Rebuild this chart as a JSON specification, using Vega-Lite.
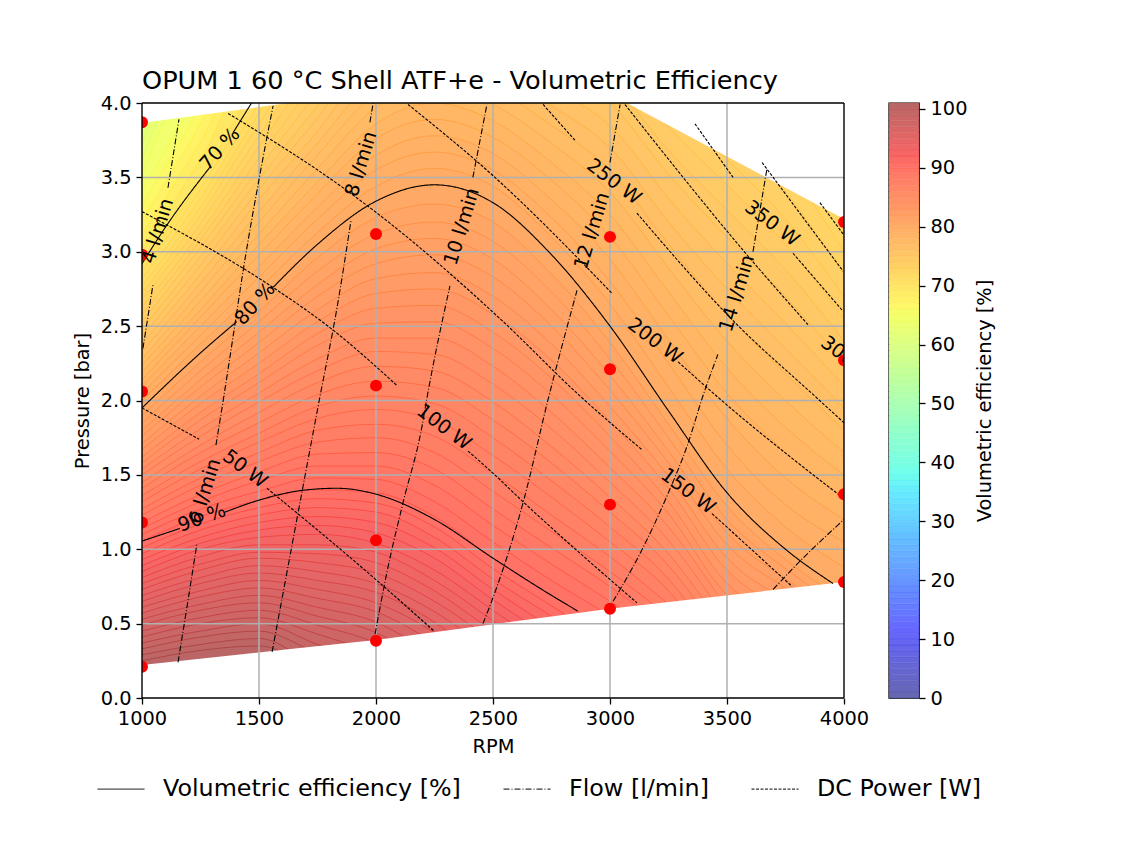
{
"$schema":"https://vega.github.io/schema/vega-lite/v6.json",
"background":"white",
"padding":{"left":72,"top":69,"right":20,"bottom":10},
"bounds":"flush",
"spacing":45,
"config":{"font":"DejaVu Sans","view":{"stroke":null},
"axis":{"grid":false,"domain":false,"labelFontSize":19.4,"titleFontSize":19.4,"titleFontWeight":"normal","labelColor":"black","titleColor":"black","tickColor":"black","tickSize":6,"tickWidth":1.3,"labelOverlap":false,"labelFlush":false}},
"datasets":{
"levels":[
{"x":1000,"y":3.92,"l":60},{"x":1250,"y":4.7,"l":60},{"x":4000,"y":4.8,"l":60},
{"x":1000,"y":3.82,"l":61},{"x":1250,"y":4.58,"l":61},{"x":4000,"y":4.8,"l":61},
{"x":1000,"y":3.72,"l":62},{"x":1250,"y":4.46,"l":62},{"x":4000,"y":4.8,"l":62},
{"x":1000,"y":3.62,"l":63},{"x":1250,"y":4.34,"l":63},{"x":4000,"y":4.8,"l":63},
{"x":1000,"y":3.52,"l":64},{"x":1250,"y":4.22,"l":64},{"x":4000,"y":4.8,"l":64},
{"x":1000,"y":3.42,"l":65},{"x":1250,"y":4.1,"l":65},{"x":1500,"y":4.9,"l":65},{"x":4000,"y":4.9,"l":65},
{"x":1000,"y":3.32,"l":66},{"x":1250,"y":3.98,"l":66},{"x":1500,"y":4.75,"l":66},{"x":4000,"y":4.9,"l":66},
{"x":1000,"y":3.22,"l":67},{"x":1250,"y":3.86,"l":67},{"x":1500,"y":4.6,"l":67},{"x":4000,"y":4.9,"l":67},
{"x":1000,"y":3.12,"l":68},{"x":1250,"y":3.74,"l":68},{"x":1500,"y":4.45,"l":68},{"x":4000,"y":4.9,"l":68},
{"x":1000,"y":3.02,"l":69},{"x":1250,"y":3.62,"l":69},{"x":1500,"y":4.3,"l":69},{"x":4000,"y":4.9,"l":69},
{"x":1000,"y":2.92,"l":70},{"x":1250,"y":3.48,"l":70},{"x":1500,"y":4.15,"l":70},{"x":1750,"y":4.6,"l":70},{"x":4000,"y":4.8,"l":70},
{"x":1000,"y":2.87,"l":70.5},{"x":1250,"y":3.42,"l":70.5},{"x":1500,"y":4.08,"l":70.5},{"x":1750,"y":4.6,"l":70.5},{"x":4000,"y":4.7,"l":70.5},
{"x":1000,"y":2.82,"l":71},{"x":1250,"y":3.36,"l":71},{"x":1500,"y":4,"l":71},{"x":1750,"y":4.6,"l":71},{"x":4000,"y":4.6,"l":71},
{"x":1000,"y":2.77,"l":71.5},{"x":1250,"y":3.3,"l":71.5},{"x":1500,"y":3.93,"l":71.5},{"x":1750,"y":4.5,"l":71.5},{"x":4000,"y":4.5,"l":71.5},
{"x":1000,"y":2.72,"l":72},{"x":1250,"y":3.25,"l":72},{"x":1500,"y":3.86,"l":72},{"x":1750,"y":4.41,"l":72},{"x":3500,"y":4.15,"l":72},{"x":3750,"y":3.75,"l":72},{"x":4000,"y":3.15,"l":72},
{"x":1000,"y":2.68,"l":72.5},{"x":1250,"y":3.19,"l":72.5},{"x":1500,"y":3.78,"l":72.5},{"x":1750,"y":4.32,"l":72.5},{"x":2000,"y":4.5,"l":72.5},{"x":3250,"y":4.4,"l":72.5},{"x":3500,"y":3.98,"l":72.5},{"x":3750,"y":3.58,"l":72.5},{"x":4000,"y":3,"l":72.5},
{"x":1000,"y":2.63,"l":73},{"x":1250,"y":3.13,"l":73},{"x":1500,"y":3.71,"l":73},{"x":1750,"y":4.24,"l":73},{"x":2000,"y":4.5,"l":73},{"x":3250,"y":4.16,"l":73},{"x":3500,"y":3.8,"l":73},{"x":3750,"y":3.4,"l":73},{"x":4000,"y":2.85,"l":73},
{"x":1000,"y":2.58,"l":73.5},{"x":1250,"y":3.08,"l":73.5},{"x":1500,"y":3.63,"l":73.5},{"x":1750,"y":4.15,"l":73.5},{"x":2000,"y":4.5,"l":73.5},{"x":3000,"y":4.5,"l":73.5},{"x":3250,"y":4,"l":73.5},{"x":3500,"y":3.62,"l":73.5},{"x":3750,"y":3.22,"l":73.5},{"x":4000,"y":2.7,"l":73.5},
{"x":1000,"y":2.53,"l":74},{"x":1250,"y":3.03,"l":74},{"x":1500,"y":3.56,"l":74},{"x":1750,"y":4.07,"l":74},{"x":2000,"y":4.5,"l":74},{"x":3000,"y":4.3,"l":74},{"x":3250,"y":3.84,"l":74},{"x":3500,"y":3.45,"l":74},{"x":3750,"y":3.05,"l":74},{"x":4000,"y":2.55,"l":74},
{"x":1000,"y":2.48,"l":74.5},{"x":1250,"y":2.97,"l":74.5},{"x":1500,"y":3.49,"l":74.5},{"x":1750,"y":3.98,"l":74.5},{"x":2000,"y":4.45,"l":74.5},{"x":2750,"y":4.4,"l":74.5},{"x":3000,"y":4.15,"l":74.5},{"x":3250,"y":3.68,"l":74.5},{"x":3500,"y":3.28,"l":74.5},{"x":3750,"y":2.88,"l":74.5},{"x":4000,"y":2.4,"l":74.5},
{"x":1000,"y":2.43,"l":75},{"x":1250,"y":2.91,"l":75},{"x":1500,"y":3.42,"l":75},{"x":1750,"y":3.9,"l":75},{"x":2000,"y":4.4,"l":75},{"x":2250,"y":4.5,"l":75},{"x":2750,"y":4.23,"l":75},{"x":3000,"y":4,"l":75},{"x":3250,"y":3.52,"l":75},{"x":3500,"y":3.1,"l":75},{"x":3750,"y":2.7,"l":75},{"x":4000,"y":2.25,"l":75},
{"x":1000,"y":2.38,"l":75.5},{"x":1250,"y":2.85,"l":75.5},{"x":1500,"y":3.35,"l":75.5},{"x":1750,"y":3.81,"l":75.5},{"x":2000,"y":4.29,"l":75.5},{"x":2250,"y":4.42,"l":75.5},{"x":2500,"y":4.35,"l":75.5},{"x":2750,"y":4.1,"l":75.5},{"x":3000,"y":3.85,"l":75.5},{"x":3250,"y":3.36,"l":75.5},{"x":3500,"y":2.92,"l":75.5},{"x":3750,"y":2.52,"l":75.5},{"x":4000,"y":2.1,"l":75.5},
{"x":1000,"y":2.33,"l":76},{"x":1250,"y":2.79,"l":76},{"x":1500,"y":3.27,"l":76},{"x":1750,"y":3.73,"l":76},{"x":2000,"y":4.18,"l":76},{"x":2250,"y":4.35,"l":76},{"x":2500,"y":4.2,"l":76},{"x":2750,"y":3.98,"l":76},{"x":3000,"y":3.7,"l":76},{"x":3250,"y":3.2,"l":76},{"x":3500,"y":2.75,"l":76},{"x":3750,"y":2.35,"l":76},{"x":4000,"y":1.95,"l":76},
{"x":1000,"y":2.28,"l":76.5},{"x":1250,"y":2.73,"l":76.5},{"x":1500,"y":3.2,"l":76.5},{"x":1750,"y":3.65,"l":76.5},{"x":2000,"y":4.07,"l":76.5},{"x":2250,"y":4.23,"l":76.5},{"x":2500,"y":4.1,"l":76.5},{"x":2750,"y":3.85,"l":76.5},{"x":3000,"y":3.55,"l":76.5},{"x":3250,"y":3.05,"l":76.5},{"x":3500,"y":2.58,"l":76.5},{"x":3750,"y":2.18,"l":76.5},{"x":4000,"y":1.8,"l":76.5},
{"x":1000,"y":2.24,"l":77},{"x":1250,"y":2.67,"l":77},{"x":1500,"y":3.12,"l":77},{"x":1750,"y":3.56,"l":77},{"x":2000,"y":3.97,"l":77},{"x":2250,"y":4.11,"l":77},{"x":2500,"y":3.99,"l":77},{"x":2750,"y":3.73,"l":77},{"x":3000,"y":3.4,"l":77},{"x":3250,"y":2.89,"l":77},{"x":3500,"y":2.4,"l":77},{"x":3750,"y":2,"l":77},{"x":4000,"y":1.65,"l":77},
{"x":1000,"y":2.19,"l":77.5},{"x":1250,"y":2.61,"l":77.5},{"x":1500,"y":3.05,"l":77.5},{"x":1750,"y":3.47,"l":77.5},{"x":2000,"y":3.86,"l":77.5},{"x":2250,"y":4,"l":77.5},{"x":2500,"y":3.88,"l":77.5},{"x":2750,"y":3.6,"l":77.5},{"x":3000,"y":3.25,"l":77.5},{"x":3250,"y":2.73,"l":77.5},{"x":3500,"y":2.22,"l":77.5},{"x":3750,"y":1.82,"l":77.5},{"x":4000,"y":1.5,"l":77.5},
{"x":1000,"y":2.14,"l":78},{"x":1250,"y":2.56,"l":78},{"x":1500,"y":2.98,"l":78},{"x":1750,"y":3.39,"l":78},{"x":2000,"y":3.76,"l":78},{"x":2250,"y":3.89,"l":78},{"x":2500,"y":3.77,"l":78},{"x":2750,"y":3.48,"l":78},{"x":3000,"y":3.1,"l":78},{"x":3250,"y":2.57,"l":78},{"x":3500,"y":2.05,"l":78},{"x":3750,"y":1.65,"l":78},{"x":4000,"y":1.35,"l":78},
{"x":1000,"y":2.1,"l":78.5},{"x":1250,"y":2.5,"l":78.5},{"x":1500,"y":2.9,"l":78.5},{"x":1750,"y":3.3,"l":78.5},{"x":2000,"y":3.65,"l":78.5},{"x":2250,"y":3.78,"l":78.5},{"x":2500,"y":3.66,"l":78.5},{"x":2750,"y":3.35,"l":78.5},{"x":3000,"y":2.95,"l":78.5},{"x":3250,"y":2.41,"l":78.5},{"x":3500,"y":1.88,"l":78.5},{"x":3750,"y":1.48,"l":78.5},{"x":4000,"y":1.2,"l":78.5},
{"x":1000,"y":2.05,"l":79},{"x":1250,"y":2.44,"l":79},{"x":1500,"y":2.83,"l":79},{"x":1750,"y":3.22,"l":79},{"x":2000,"y":3.55,"l":79},{"x":2250,"y":3.67,"l":79},{"x":2500,"y":3.55,"l":79},{"x":2750,"y":3.23,"l":79},{"x":3000,"y":2.8,"l":79},{"x":3250,"y":2.25,"l":79},{"x":3500,"y":1.7,"l":79},{"x":3750,"y":1.3,"l":79},{"x":4000,"y":1.05,"l":79},
{"x":1000,"y":2,"l":79.5},{"x":1250,"y":2.38,"l":79.5},{"x":1500,"y":2.75,"l":79.5},{"x":1750,"y":3.13,"l":79.5},{"x":2000,"y":3.44,"l":79.5},{"x":2250,"y":3.56,"l":79.5},{"x":2500,"y":3.44,"l":79.5},{"x":2750,"y":3.1,"l":79.5},{"x":3000,"y":2.65,"l":79.5},{"x":3250,"y":2.09,"l":79.5},{"x":3500,"y":1.54,"l":79.5},{"x":3750,"y":1.15,"l":79.5},{"x":4000,"y":0.88,"l":79.5},
{"x":1000,"y":1.95,"l":80},{"x":1250,"y":2.32,"l":80},{"x":1500,"y":2.68,"l":80},{"x":1750,"y":3.05,"l":80},{"x":2000,"y":3.34,"l":80},{"x":2250,"y":3.45,"l":80},{"x":2500,"y":3.33,"l":80},{"x":2750,"y":2.98,"l":80},{"x":3000,"y":2.5,"l":80},{"x":3250,"y":1.93,"l":80},{"x":3500,"y":1.38,"l":80},{"x":3750,"y":1,"l":80},{"x":4000,"y":0.72,"l":80},
{"x":1000,"y":1.9,"l":80.5},{"x":1250,"y":2.26,"l":80.5},{"x":1500,"y":2.6,"l":80.5},{"x":1750,"y":2.96,"l":80.5},{"x":2000,"y":3.23,"l":80.5},{"x":2250,"y":3.32,"l":80.5},{"x":2500,"y":3.2,"l":80.5},{"x":2750,"y":2.85,"l":80.5},{"x":3000,"y":2.39,"l":80.5},{"x":3250,"y":1.84,"l":80.5},{"x":3500,"y":1.29,"l":80.5},{"x":3750,"y":0.93,"l":80.5},{"x":4000,"y":0.66,"l":80.5},
{"x":1000,"y":1.85,"l":81},{"x":1250,"y":2.2,"l":81},{"x":1500,"y":2.53,"l":81},{"x":1750,"y":2.87,"l":81},{"x":2000,"y":3.12,"l":81},{"x":2250,"y":3.2,"l":81},{"x":2500,"y":3.07,"l":81},{"x":2750,"y":2.73,"l":81},{"x":3000,"y":2.28,"l":81},{"x":3250,"y":1.75,"l":81},{"x":3500,"y":1.2,"l":81},{"x":3750,"y":0.87,"l":81},{"x":4000,"y":0.6,"l":81},
{"x":1000,"y":1.8,"l":81.5},{"x":1250,"y":2.14,"l":81.5},{"x":1500,"y":2.46,"l":81.5},{"x":1750,"y":2.78,"l":81.5},{"x":2000,"y":3.02,"l":81.5},{"x":2250,"y":3.09,"l":81.5},{"x":2500,"y":2.95,"l":81.5},{"x":2750,"y":2.61,"l":81.5},{"x":3000,"y":2.17,"l":81.5},{"x":3250,"y":1.66,"l":81.5},{"x":3500,"y":1.11,"l":81.5},{"x":3750,"y":0.8,"l":81.5},{"x":4000,"y":0.55,"l":81.5},
{"x":1000,"y":1.76,"l":82},{"x":1250,"y":2.09,"l":82},{"x":1500,"y":2.39,"l":82},{"x":1750,"y":2.7,"l":82},{"x":2000,"y":2.92,"l":82},{"x":2250,"y":2.98,"l":82},{"x":2500,"y":2.83,"l":82},{"x":2750,"y":2.5,"l":82},{"x":3000,"y":2.07,"l":82},{"x":3250,"y":1.58,"l":82},{"x":3500,"y":1.03,"l":82},{"x":3750,"y":0.74,"l":82},{"x":4000,"y":0.5,"l":82},
{"x":1000,"y":1.71,"l":82.5},{"x":1250,"y":2.03,"l":82.5},{"x":1500,"y":2.32,"l":82.5},{"x":1750,"y":2.61,"l":82.5},{"x":2000,"y":2.82,"l":82.5},{"x":2250,"y":2.86,"l":82.5},{"x":2500,"y":2.7,"l":82.5},{"x":2750,"y":2.38,"l":82.5},{"x":3000,"y":1.96,"l":82.5},{"x":3250,"y":1.49,"l":82.5},{"x":3500,"y":0.94,"l":82.5},{"x":3750,"y":0.67,"l":82.5},
{"x":1000,"y":1.67,"l":83},{"x":1250,"y":1.98,"l":83},{"x":1500,"y":2.25,"l":83},{"x":1750,"y":2.53,"l":83},{"x":2000,"y":2.72,"l":83},{"x":2250,"y":2.75,"l":83},{"x":2500,"y":2.58,"l":83},{"x":2750,"y":2.27,"l":83},{"x":3000,"y":1.86,"l":83},{"x":3250,"y":1.41,"l":83},{"x":3500,"y":0.86,"l":83},{"x":3750,"y":0.6,"l":83},
{"x":1000,"y":1.62,"l":83.5},{"x":1250,"y":1.92,"l":83.5},{"x":1500,"y":2.18,"l":83.5},{"x":1750,"y":2.45,"l":83.5},{"x":2000,"y":2.62,"l":83.5},{"x":2250,"y":2.64,"l":83.5},{"x":2500,"y":2.46,"l":83.5},{"x":2750,"y":2.15,"l":83.5},{"x":3000,"y":1.76,"l":83.5},{"x":3250,"y":1.32,"l":83.5},{"x":3500,"y":0.77,"l":83.5},{"x":3750,"y":0.52,"l":83.5},
{"x":1000,"y":1.58,"l":84},{"x":1250,"y":1.87,"l":84},{"x":1500,"y":2.12,"l":84},{"x":1750,"y":2.37,"l":84},{"x":2000,"y":2.52,"l":84},{"x":2250,"y":2.53,"l":84},{"x":2500,"y":2.35,"l":84},{"x":2750,"y":2.04,"l":84},{"x":3000,"y":1.66,"l":84},{"x":3250,"y":1.24,"l":84},{"x":3500,"y":0.69,"l":84},{"x":3750,"y":0.45,"l":84},
{"x":1000,"y":1.54,"l":84.5},{"x":1250,"y":1.81,"l":84.5},{"x":1500,"y":2.05,"l":84.5},{"x":1750,"y":2.28,"l":84.5},{"x":2000,"y":2.42,"l":84.5},{"x":2250,"y":2.42,"l":84.5},{"x":2500,"y":2.23,"l":84.5},{"x":2750,"y":1.92,"l":84.5},{"x":3000,"y":1.55,"l":84.5},{"x":3250,"y":1.15,"l":84.5},{"x":3500,"y":0.6,"l":84.5},
{"x":1000,"y":1.5,"l":85},{"x":1250,"y":1.76,"l":85},{"x":1500,"y":1.99,"l":85},{"x":1750,"y":2.2,"l":85},{"x":2000,"y":2.33,"l":85},{"x":2250,"y":2.31,"l":85},{"x":2500,"y":2.11,"l":85},{"x":2750,"y":1.81,"l":85},{"x":3000,"y":1.45,"l":85},{"x":3250,"y":1.06,"l":85},{"x":3500,"y":0.52,"l":85},
{"x":1000,"y":1.45,"l":85.5},{"x":1250,"y":1.7,"l":85.5},{"x":1500,"y":1.92,"l":85.5},{"x":1750,"y":2.12,"l":85.5},{"x":2000,"y":2.23,"l":85.5},{"x":2250,"y":2.2,"l":85.5},{"x":2500,"y":1.99,"l":85.5},{"x":2750,"y":1.69,"l":85.5},{"x":3000,"y":1.35,"l":85.5},{"x":3250,"y":0.97,"l":85.5},{"x":3500,"y":0.43,"l":85.5},
{"x":1000,"y":1.41,"l":86},{"x":1250,"y":1.65,"l":86},{"x":1500,"y":1.85,"l":86},{"x":1750,"y":2.04,"l":86},{"x":2000,"y":2.13,"l":86},{"x":2250,"y":2.09,"l":86},{"x":2500,"y":1.87,"l":86},{"x":2750,"y":1.58,"l":86},{"x":3000,"y":1.25,"l":86},{"x":3250,"y":0.89,"l":86},{"x":3500,"y":0.35,"l":86},
{"x":1000,"y":1.36,"l":86.5},{"x":1250,"y":1.59,"l":86.5},{"x":1500,"y":1.78,"l":86.5},{"x":1750,"y":1.96,"l":86.5},{"x":2000,"y":2.03,"l":86.5},{"x":2250,"y":1.98,"l":86.5},{"x":2500,"y":1.75,"l":86.5},{"x":2750,"y":1.46,"l":86.5},{"x":3000,"y":1.15,"l":86.5},{"x":3250,"y":0.8,"l":86.5},{"x":3500,"y":0.26,"l":86.5},
{"x":1000,"y":1.32,"l":87},{"x":1250,"y":1.54,"l":87},{"x":1500,"y":1.72,"l":87},{"x":1750,"y":1.88,"l":87},{"x":2000,"y":1.94,"l":87},{"x":2250,"y":1.87,"l":87},{"x":2500,"y":1.63,"l":87},{"x":2750,"y":1.35,"l":87},{"x":3000,"y":1.05,"l":87},{"x":3250,"y":0.72,"l":87},{"x":3500,"y":0.18,"l":87},
{"x":1000,"y":1.27,"l":87.5},{"x":1250,"y":1.48,"l":87.5},{"x":1500,"y":1.65,"l":87.5},{"x":1750,"y":1.8,"l":87.5},{"x":2000,"y":1.84,"l":87.5},{"x":2250,"y":1.76,"l":87.5},{"x":2500,"y":1.51,"l":87.5},{"x":2750,"y":1.23,"l":87.5},{"x":3000,"y":0.95,"l":87.5},{"x":3250,"y":0.63,"l":87.5},
{"x":1000,"y":1.23,"l":88},{"x":1250,"y":1.43,"l":88},{"x":1500,"y":1.59,"l":88},{"x":1750,"y":1.72,"l":88},{"x":2000,"y":1.75,"l":88},{"x":2250,"y":1.65,"l":88},{"x":2500,"y":1.39,"l":88},{"x":2750,"y":1.12,"l":88},{"x":3000,"y":0.85,"l":88},{"x":3250,"y":0.55,"l":88},
{"x":1000,"y":1.18,"l":88.5},{"x":1250,"y":1.37,"l":88.5},{"x":1500,"y":1.52,"l":88.5},{"x":1750,"y":1.64,"l":88.5},{"x":2000,"y":1.65,"l":88.5},{"x":2250,"y":1.54,"l":88.5},{"x":2500,"y":1.27,"l":88.5},{"x":2750,"y":1.01,"l":88.5},{"x":3000,"y":0.75,"l":88.5},{"x":3250,"y":0.46,"l":88.5},
{"x":1000,"y":1.14,"l":89},{"x":1250,"y":1.32,"l":89},{"x":1500,"y":1.46,"l":89},{"x":1750,"y":1.56,"l":89},{"x":2000,"y":1.56,"l":89},{"x":2250,"y":1.43,"l":89},{"x":2500,"y":1.16,"l":89},{"x":2750,"y":0.9,"l":89},{"x":3000,"y":0.65,"l":89},{"x":3250,"y":0.37,"l":89},
{"x":1000,"y":1.1,"l":89.5},{"x":1250,"y":1.27,"l":89.5},{"x":1500,"y":1.39,"l":89.5},{"x":1750,"y":1.48,"l":89.5},{"x":2000,"y":1.47,"l":89.5},{"x":2250,"y":1.32,"l":89.5},{"x":2500,"y":1.05,"l":89.5},{"x":2750,"y":0.79,"l":89.5},{"x":3000,"y":0.55,"l":89.5},{"x":3250,"y":0.28,"l":89.5},
{"x":1000,"y":1.055,"l":90},{"x":1250,"y":1.22,"l":90},{"x":1500,"y":1.33,"l":90},{"x":1750,"y":1.4,"l":90},{"x":2000,"y":1.38,"l":90},{"x":2250,"y":1.22,"l":90},{"x":2500,"y":0.94,"l":90},{"x":2750,"y":0.69,"l":90},{"x":3000,"y":0.45,"l":90},{"x":3250,"y":0.2,"l":90},
{"x":1000,"y":1.01,"l":90.5},{"x":1250,"y":1.17,"l":90.5},{"x":1500,"y":1.28,"l":90.5},{"x":1750,"y":1.34,"l":90.5},{"x":2000,"y":1.31,"l":90.5},{"x":2250,"y":1.15,"l":90.5},{"x":2500,"y":0.87,"l":90.5},{"x":2750,"y":0.62,"l":90.5},{"x":3000,"y":0.37,"l":90.5},
{"x":1000,"y":0.97,"l":91},{"x":1250,"y":1.13,"l":91},{"x":1500,"y":1.23,"l":91},{"x":1750,"y":1.28,"l":91},{"x":2000,"y":1.25,"l":91},{"x":2250,"y":1.08,"l":91},{"x":2500,"y":0.8,"l":91},{"x":2750,"y":0.55,"l":91},{"x":3000,"y":0.3,"l":91},
{"x":1000,"y":0.93,"l":91.5},{"x":1250,"y":1.08,"l":91.5},{"x":1500,"y":1.18,"l":91.5},{"x":1750,"y":1.22,"l":91.5},{"x":2000,"y":1.18,"l":91.5},{"x":2250,"y":1.01,"l":91.5},{"x":2500,"y":0.73,"l":91.5},{"x":2750,"y":0.47,"l":91.5},{"x":3000,"y":0.2,"l":91.5},
{"x":1000,"y":0.89,"l":92},{"x":1250,"y":1.04,"l":92},{"x":1500,"y":1.13,"l":92},{"x":1750,"y":1.16,"l":92},{"x":2000,"y":1.11,"l":92},{"x":2250,"y":0.94,"l":92},{"x":2500,"y":0.66,"l":92},{"x":2750,"y":0.4,"l":92},
{"x":1000,"y":0.85,"l":92.5},{"x":1250,"y":1,"l":92.5},{"x":1500,"y":1.08,"l":92.5},{"x":1750,"y":1.1,"l":92.5},{"x":2000,"y":1.04,"l":92.5},{"x":2250,"y":0.86,"l":92.5},{"x":2500,"y":0.59,"l":92.5},{"x":2750,"y":0.32,"l":92.5},
{"x":1000,"y":0.81,"l":93},{"x":1250,"y":0.95,"l":93},{"x":1500,"y":1.03,"l":93},{"x":1750,"y":1.03,"l":93},{"x":2000,"y":0.98,"l":93},{"x":2250,"y":0.79,"l":93},{"x":2500,"y":0.52,"l":93},{"x":2750,"y":0.25,"l":93},
{"x":1000,"y":0.77,"l":93.5},{"x":1250,"y":0.9,"l":93.5},{"x":1500,"y":0.98,"l":93.5},{"x":1750,"y":0.97,"l":93.5},{"x":2000,"y":0.91,"l":93.5},{"x":2250,"y":0.72,"l":93.5},{"x":2500,"y":0.45,"l":93.5},{"x":2750,"y":0.2,"l":93.5},
{"x":1000,"y":0.73,"l":94},{"x":1250,"y":0.86,"l":94},{"x":1500,"y":0.94,"l":94},{"x":1750,"y":0.91,"l":94},{"x":2000,"y":0.84,"l":94},{"x":2250,"y":0.65,"l":94},{"x":2500,"y":0.38,"l":94},
{"x":1000,"y":0.69,"l":94.5},{"x":1250,"y":0.81,"l":94.5},{"x":1500,"y":0.89,"l":94.5},{"x":1750,"y":0.85,"l":94.5},{"x":2000,"y":0.77,"l":94.5},{"x":2250,"y":0.58,"l":94.5},{"x":2500,"y":0.3,"l":94.5},
{"x":1000,"y":0.65,"l":95},{"x":1250,"y":0.77,"l":95},{"x":1500,"y":0.84,"l":95},{"x":1750,"y":0.79,"l":95},{"x":2000,"y":0.71,"l":95},{"x":2250,"y":0.51,"l":95},{"x":2500,"y":0.2,"l":95},
{"x":1000,"y":0.61,"l":95.5},{"x":1250,"y":0.72,"l":95.5},{"x":1500,"y":0.79,"l":95.5},{"x":1750,"y":0.73,"l":95.5},{"x":2000,"y":0.64,"l":95.5},{"x":2250,"y":0.44,"l":95.5},{"x":2500,"y":0.15,"l":95.5},
{"x":1000,"y":0.57,"l":96},{"x":1250,"y":0.68,"l":96},{"x":1500,"y":0.74,"l":96},{"x":1750,"y":0.67,"l":96},{"x":2000,"y":0.58,"l":96},{"x":2250,"y":0.37,"l":96},
{"x":1000,"y":0.53,"l":96.5},{"x":1250,"y":0.63,"l":96.5},{"x":1500,"y":0.69,"l":96.5},{"x":1750,"y":0.61,"l":96.5},{"x":2000,"y":0.51,"l":96.5},{"x":2250,"y":0.28,"l":96.5},
{"x":1000,"y":0.49,"l":97},{"x":1250,"y":0.59,"l":97},{"x":1500,"y":0.64,"l":97},{"x":1750,"y":0.55,"l":97},{"x":2000,"y":0.44,"l":97},{"x":2250,"y":0.2,"l":97},
{"x":1000,"y":0.45,"l":97.5},{"x":1250,"y":0.54,"l":97.5},{"x":1500,"y":0.59,"l":97.5},{"x":1750,"y":0.49,"l":97.5},{"x":2000,"y":0.37,"l":97.5},{"x":2250,"y":0.15,"l":97.5},
{"x":1000,"y":0.41,"l":98},{"x":1250,"y":0.5,"l":98},{"x":1500,"y":0.54,"l":98},{"x":1750,"y":0.43,"l":98},{"x":2000,"y":0.3,"l":98},
{"x":1000,"y":0.37,"l":98.5},{"x":1250,"y":0.45,"l":98.5},{"x":1500,"y":0.5,"l":98.5},{"x":1750,"y":0.36,"l":98.5},{"x":2000,"y":0.22,"l":98.5},
{"x":1000,"y":0.33,"l":99},{"x":1250,"y":0.41,"l":99},{"x":1500,"y":0.45,"l":99},{"x":1750,"y":0.3,"l":99},{"x":2000,"y":0.15,"l":99},
{"x":1000,"y":0.29,"l":99.5},{"x":1250,"y":0.36,"l":99.5},{"x":1500,"y":0.4,"l":99.5},{"x":1750,"y":0.22,"l":99.5},{"x":2000,"y":0.1,"l":99.5},
{"x":1000,"y":0.25,"l":100},{"x":1250,"y":0.32,"l":100},{"x":1500,"y":0.35,"l":100},{"x":1750,"y":0.15,"l":100}
],
"edge":[
{"x":1000,"top":3.865,"bottom":0.222},{"x":1624,"top":4,"bottom":0.327},{"x":2000,"top":4,"bottom":0.39},{"x":3000,"top":4,"bottom":0.6},{"x":3072,"top":4,"bottom":0.613},{"x":4000,"top":3.22,"bottom":0.78}
],
"grid":[
{"x":1500,"y":0,"x2":1500,"y2":4},{"x":2000,"y":0,"x2":2000,"y2":4},{"x":2500,"y":0,"x2":2500,"y2":4},{"x":3000,"y":0,"x2":3000,"y2":4},{"x":3500,"y":0,"x2":3500,"y2":4},
{"x":1000,"y":0.5,"x2":4000,"y2":0.5},{"x":1000,"y":1,"x2":4000,"y2":1},{"x":1000,"y":1.5,"x2":4000,"y2":1.5},{"x":1000,"y":2,"x2":4000,"y2":2},{"x":1000,"y":2.5,"x2":4000,"y2":2.5},{"x":1000,"y":3,"x2":4000,"y2":3},{"x":1000,"y":3.5,"x2":4000,"y2":3.5}
],
"frame":[
{"x":1000,"y":0,"x2":4000,"y2":0},{"x":1000,"y":4,"x2":4000,"y2":4},{"x":1000,"y":0,"x2":1000,"y2":4},{"x":4000,"y":0,"x2":4000,"y2":4}
],
"curves":[
{"x":1000,"y":2.92,"id":"e70a","kind":"Volumetric efficiency [%]"},{"x":1111,"y":3.19,"id":"e70a","kind":"Volumetric efficiency [%]"},{"x":1291,"y":3.57,"id":"e70a","kind":"Volumetric efficiency [%]"},
{"x":1389,"y":3.8,"id":"e70b","kind":"Volumetric efficiency [%]"},{"x":1480,"y":4.03,"id":"e70b","kind":"Volumetric efficiency [%]"},
{"x":1000,"y":1.95,"id":"e80a","kind":"Volumetric efficiency [%]"},{"x":1250,"y":2.32,"id":"e80a","kind":"Volumetric efficiency [%]"},{"x":1405,"y":2.53,"id":"e80a","kind":"Volumetric efficiency [%]"},
{"x":1560,"y":2.76,"id":"e80b","kind":"Volumetric efficiency [%]"},{"x":1750,"y":3.05,"id":"e80b","kind":"Volumetric efficiency [%]"},{"x":2000,"y":3.34,"id":"e80b","kind":"Volumetric efficiency [%]"},{"x":2250,"y":3.45,"id":"e80b","kind":"Volumetric efficiency [%]"},{"x":2500,"y":3.33,"id":"e80b","kind":"Volumetric efficiency [%]"},{"x":2750,"y":2.98,"id":"e80b","kind":"Volumetric efficiency [%]"},{"x":3000,"y":2.5,"id":"e80b","kind":"Volumetric efficiency [%]"},{"x":3250,"y":1.93,"id":"e80b","kind":"Volumetric efficiency [%]"},{"x":3500,"y":1.38,"id":"e80b","kind":"Volumetric efficiency [%]"},{"x":3750,"y":1,"id":"e80b","kind":"Volumetric efficiency [%]"},{"x":3953,"y":0.77,"id":"e80b","kind":"Volumetric efficiency [%]"},
{"x":1000,"y":1.055,"id":"e90a","kind":"Volumetric efficiency [%]"},{"x":1162,"y":1.14,"id":"e90a","kind":"Volumetric efficiency [%]"},
{"x":1355,"y":1.25,"id":"e90b","kind":"Volumetric efficiency [%]"},{"x":1500,"y":1.33,"id":"e90b","kind":"Volumetric efficiency [%]"},{"x":1680,"y":1.395,"id":"e90b","kind":"Volumetric efficiency [%]"},{"x":1833,"y":1.41,"id":"e90b","kind":"Volumetric efficiency [%]"},{"x":2000,"y":1.37,"id":"e90b","kind":"Volumetric efficiency [%]"},{"x":2250,"y":1.2,"id":"e90b","kind":"Volumetric efficiency [%]"},{"x":2500,"y":0.94,"id":"e90b","kind":"Volumetric efficiency [%]"},{"x":2750,"y":0.69,"id":"e90b","kind":"Volumetric efficiency [%]"},{"x":2862,"y":0.585,"id":"e90b","kind":"Volumetric efficiency [%]"},
{"x":1004,"y":2.35,"id":"f4a","kind":"Flow [l/min]"},{"x":1047,"y":2.78,"id":"f4a","kind":"Flow [l/min]"},
{"x":1111,"y":3.43,"id":"f4b","kind":"Flow [l/min]"},{"x":1158,"y":3.89,"id":"f4b","kind":"Flow [l/min]"},
{"x":1154,"y":0.24,"id":"f6a","kind":"Flow [l/min]"},{"x":1195,"y":0.64,"id":"f6a","kind":"Flow [l/min]"},{"x":1235,"y":1.04,"id":"f6a","kind":"Flow [l/min]"},
{"x":1316,"y":1.7,"id":"f6b","kind":"Flow [l/min]"},{"x":1350,"y":2.03,"id":"f6b","kind":"Flow [l/min]"},{"x":1397,"y":2.51,"id":"f6b","kind":"Flow [l/min]"},{"x":1432,"y":2.87,"id":"f6b","kind":"Flow [l/min]"},{"x":1504,"y":3.52,"id":"f6b","kind":"Flow [l/min]"},{"x":1560,"y":3.98,"id":"f6b","kind":"Flow [l/min]"},
{"x":1556,"y":0.31,"id":"f8a","kind":"Flow [l/min]"},{"x":1667,"y":1.245,"id":"f8a","kind":"Flow [l/min]"},{"x":1761,"y":2.03,"id":"f8a","kind":"Flow [l/min]"},{"x":1833,"y":2.62,"id":"f8a","kind":"Flow [l/min]"},{"x":1893,"y":3.21,"id":"f8a","kind":"Flow [l/min]"},
{"x":1974,"y":3.87,"id":"f8b","kind":"Flow [l/min]"},{"x":1990,"y":4.02,"id":"f8b","kind":"Flow [l/min]"},
{"x":1996,"y":0.43,"id":"f10a","kind":"Flow [l/min]"},{"x":2050,"y":0.87,"id":"f10a","kind":"Flow [l/min]"},{"x":2115,"y":1.31,"id":"f10a","kind":"Flow [l/min]"},{"x":2197,"y":1.83,"id":"f10a","kind":"Flow [l/min]"},{"x":2217,"y":2.01,"id":"f10a","kind":"Flow [l/min]"},{"x":2316,"y":2.77,"id":"f10a","kind":"Flow [l/min]"},
{"x":2414,"y":3.5,"id":"f10b","kind":"Flow [l/min]"},{"x":2474,"y":3.99,"id":"f10b","kind":"Flow [l/min]"},
{"x":2457,"y":0.5,"id":"f12a","kind":"Flow [l/min]"},{"x":2487,"y":0.62,"id":"f12a","kind":"Flow [l/min]"},{"x":2628,"y":1.31,"id":"f12a","kind":"Flow [l/min]"},{"x":2739,"y":2.03,"id":"f12a","kind":"Flow [l/min]"},{"x":2859,"y":2.74,"id":"f12a","kind":"Flow [l/min]"},
{"x":3000,"y":3.6,"id":"f12b","kind":"Flow [l/min]"},{"x":3043,"y":3.99,"id":"f12b","kind":"Flow [l/min]"},
{"x":3013,"y":0.65,"id":"f14a","kind":"Flow [l/min]"},{"x":3128,"y":0.97,"id":"f14a","kind":"Flow [l/min]"},{"x":3244,"y":1.36,"id":"f14a","kind":"Flow [l/min]"},{"x":3333,"y":1.71,"id":"f14a","kind":"Flow [l/min]"},{"x":3397,"y":2.03,"id":"f14a","kind":"Flow [l/min]"},{"x":3461,"y":2.31,"id":"f14a","kind":"Flow [l/min]"},
{"x":3611,"y":3,"id":"f14b","kind":"Flow [l/min]"},{"x":3671,"y":3.56,"id":"f14b","kind":"Flow [l/min]"},
{"x":3697,"y":0.73,"id":"f16","kind":"Flow [l/min]"},{"x":3812,"y":0.92,"id":"f16","kind":"Flow [l/min]"},{"x":4000,"y":1.2,"id":"f16","kind":"Flow [l/min]"},
{"x":1000,"y":1.95,"id":"p50a","kind":"DC Power [W]"},{"x":1244,"y":1.74,"id":"p50a","kind":"DC Power [W]"},
{"x":1534,"y":1.41,"id":"p50b","kind":"DC Power [W]"},{"x":2004,"y":0.79,"id":"p50b","kind":"DC Power [W]"},{"x":2248,"y":0.45,"id":"p50b","kind":"DC Power [W]"},
{"x":1000,"y":3.27,"id":"p100a","kind":"DC Power [W]"},{"x":1560,"y":2.76,"id":"p100a","kind":"DC Power [W]"},{"x":1803,"y":2.49,"id":"p100a","kind":"DC Power [W]"},{"x":2090,"y":2.1,"id":"p100a","kind":"DC Power [W]"},
{"x":2393,"y":1.66,"id":"p100b","kind":"DC Power [W]"},{"x":2487,"y":1.53,"id":"p100b","kind":"DC Power [W]"},{"x":2628,"y":1.32,"id":"p100b","kind":"DC Power [W]"},{"x":3115,"y":0.64,"id":"p100b","kind":"DC Power [W]"},
{"x":1368,"y":3.93,"id":"p150a","kind":"DC Power [W]"},{"x":1859,"y":3.43,"id":"p150a","kind":"DC Power [W]"},{"x":2004,"y":3.26,"id":"p150a","kind":"DC Power [W]"},{"x":2530,"y":2.55,"id":"p150a","kind":"DC Power [W]"},{"x":2872,"y":2.03,"id":"p150a","kind":"DC Power [W]"},{"x":3136,"y":1.67,"id":"p150a","kind":"DC Power [W]"},
{"x":3436,"y":1.24,"id":"p150b","kind":"DC Power [W]"},{"x":3778,"y":0.75,"id":"p150b","kind":"DC Power [W]"},
{"x":2137,"y":3.99,"id":"p200a","kind":"DC Power [W]"},{"x":2487,"y":3.53,"id":"p200a","kind":"DC Power [W]"},{"x":3009,"y":2.72,"id":"p200a","kind":"DC Power [W]"},
{"x":3291,"y":2.26,"id":"p200b","kind":"DC Power [W]"},{"x":3470,"y":2.01,"id":"p200b","kind":"DC Power [W]"},{"x":4000,"y":1.34,"id":"p200b","kind":"DC Power [W]"},
{"x":2714,"y":3.99,"id":"p250a","kind":"DC Power [W]"},{"x":2850,"y":3.75,"id":"p250a","kind":"DC Power [W]"},
{"x":3115,"y":3.26,"id":"p250b","kind":"DC Power [W]"},{"x":3543,"y":2.51,"id":"p250b","kind":"DC Power [W]"},{"x":3889,"y":2.01,"id":"p250b","kind":"DC Power [W]"},{"x":4000,"y":1.85,"id":"p250b","kind":"DC Power [W]"},
{"x":3064,"y":3.99,"id":"p300","kind":"DC Power [W]"},{"x":3585,"y":2.98,"id":"p300","kind":"DC Power [W]"},{"x":3846,"y":2.51,"id":"p300","kind":"DC Power [W]"},
{"x":3363,"y":3.86,"id":"p350a","kind":"DC Power [W]"},{"x":3526,"y":3.5,"id":"p350a","kind":"DC Power [W]"},
{"x":3782,"y":2.99,"id":"p350b","kind":"DC Power [W]"},{"x":3996,"y":2.6,"id":"p350b","kind":"DC Power [W]"},
{"x":3650,"y":3.6,"id":"p400","kind":"DC Power [W]"},{"x":3735,"y":3.42,"id":"p400","kind":"DC Power [W]"},{"x":3996,"y":2.87,"id":"p400","kind":"DC Power [W]"},
{"x":3897,"y":3.33,"id":"p450","kind":"DC Power [W]"},{"x":3996,"y":3.12,"id":"p450","kind":"DC Power [W]"}
],
"points":[
{"x":1000,"y":0.21},{"x":1000,"y":1.18},{"x":1000,"y":2.06},{"x":1000,"y":2.98},{"x":1000,"y":3.87},
{"x":2000,"y":0.385},{"x":2000,"y":1.06},{"x":2000,"y":2.1},{"x":2000,"y":3.12},
{"x":3000,"y":0.6},{"x":3000,"y":1.3},{"x":3000,"y":2.21},{"x":3000,"y":3.1},
{"x":4000,"y":0.78},{"x":4000,"y":1.37},{"x":4000,"y":2.27},{"x":4000,"y":3.2}
],
"bar":[
{"l":0,"l2":1},{"l":1,"l2":2},{"l":2,"l2":3},{"l":3,"l2":4},{"l":4,"l2":5},{"l":5,"l2":6},{"l":6,"l2":7},{"l":7,"l2":8},{"l":8,"l2":9},{"l":9,"l2":10},
{"l":10,"l2":11},{"l":11,"l2":12},{"l":12,"l2":13},{"l":13,"l2":14},{"l":14,"l2":15},{"l":15,"l2":16},{"l":16,"l2":17},{"l":17,"l2":18},{"l":18,"l2":19},{"l":19,"l2":20},
{"l":20,"l2":21},{"l":21,"l2":22},{"l":22,"l2":23},{"l":23,"l2":24},{"l":24,"l2":25},{"l":25,"l2":26},{"l":26,"l2":27},{"l":27,"l2":28},{"l":28,"l2":29},{"l":29,"l2":30},
{"l":30,"l2":31},{"l":31,"l2":32},{"l":32,"l2":33},{"l":33,"l2":34},{"l":34,"l2":35},{"l":35,"l2":36},{"l":36,"l2":37},{"l":37,"l2":38},{"l":38,"l2":39},{"l":39,"l2":40},
{"l":40,"l2":41},{"l":41,"l2":42},{"l":42,"l2":43},{"l":43,"l2":44},{"l":44,"l2":45},{"l":45,"l2":46},{"l":46,"l2":47},{"l":47,"l2":48},{"l":48,"l2":49},{"l":49,"l2":50},
{"l":50,"l2":51},{"l":51,"l2":52},{"l":52,"l2":53},{"l":53,"l2":54},{"l":54,"l2":55},{"l":55,"l2":56},{"l":56,"l2":57},{"l":57,"l2":58},{"l":58,"l2":59},{"l":59,"l2":60},
{"l":60,"l2":61},{"l":61,"l2":62},{"l":62,"l2":63},{"l":63,"l2":64},{"l":64,"l2":65},{"l":65,"l2":66},{"l":66,"l2":67},{"l":67,"l2":68},{"l":68,"l2":69},{"l":69,"l2":70},
{"l":70,"l2":71},{"l":71,"l2":72},{"l":72,"l2":73},{"l":73,"l2":74},{"l":74,"l2":75},{"l":75,"l2":76},{"l":76,"l2":77},{"l":77,"l2":78},{"l":78,"l2":79},{"l":79,"l2":80},
{"l":80,"l2":81},{"l":81,"l2":82},{"l":82,"l2":83},{"l":83,"l2":84},{"l":84,"l2":85},{"l":85,"l2":86},{"l":86,"l2":87},{"l":87,"l2":88},{"l":88,"l2":89},{"l":89,"l2":90},
{"l":90,"l2":91},{"l":91,"l2":92},{"l":92,"l2":93},{"l":93,"l2":94},{"l":94,"l2":95},{"l":95,"l2":96},{"l":96,"l2":97},{"l":97,"l2":98},{"l":98,"l2":99},{"l":99,"l2":100},{"l":100,"l2":101}
]
},
"hconcat":[
{
"width":702,"height":595,
"title":{"text":"OPUM 1 60 °C Shell ATF+e - Volumetric Efficiency","anchor":"start","fontSize":25.6,"fontWeight":"normal","color":"black","offset":8,"dy":10,"frame":"group"},
"encoding":{
"x":{"field":"x","type":"quantitative","scale":{"domain":[1000,4000],"nice":false,"zero":false},"axis":{"values":[1000,1500,2000,2500,3000,3500,4000],"format":"d","title":"RPM","titlePadding":10,"labelPadding":5}},
"y":{"field":"y","type":"quantitative","stack":null,"scale":{"domain":[0,4],"nice":false,"zero":false},"axis":{"values":[0,0.5,1,1.5,2,2.5,3,3.5,4],"format":".1f","title":"Pressure [bar]","titlePadding":8,"labelPadding":5}}
},
"layer":[
{"data":{"name":"levels"},
"mark":{"type":"area","orient":"vertical","interpolate":"monotone","clip":true,"strokeWidth":0.8,"strokeOpacity":0.4},
"encoding":{
"y2":{"datum":0},
"fill":{"field":"l","type":"quantitative","legend":null,"scale":{"domain":[0,11.1,34.3,37.9,64.6,66.7,89.9,91.9,101],"range":["#6666B3","#6666FF","#66EAFF","#72FFEB","#F5FF6B","#FFF466","#FF7166","#F86666","#B36666"],"interpolate":"rgb"}},
"stroke":{"field":"l","type":"quantitative","legend":null,"scale":{"domain":[0,11.1,34.3,37.9,64.6,66.7,89.9,91.9,101],"range":["#000080","#0000FF","#00DBFF","#15FFDE","#EEFF08","#FFEC00","#FF1300","#F40000","#800000"],"interpolate":"rgb"}}
}},
{"data":{"name":"edge"},"mark":{"type":"area","orient":"vertical","fill":"white","clip":true},"encoding":{"y":{"field":"top","type":"quantitative"},"y2":{"datum":4}}},
{"data":{"name":"edge"},"mark":{"type":"area","orient":"vertical","fill":"white","clip":true},"encoding":{"y":{"field":"bottom","type":"quantitative"},"y2":{"datum":0}}},
{"data":{"name":"grid"},"mark":{"type":"rule","color":"#b0b0b0","strokeWidth":1.5},"encoding":{"x2":{"field":"x2"},"y2":{"field":"y2"}}},
{"data":{"name":"curves"},
"mark":{"type":"line","interpolate":"monotone","clip":true,"color":"black","strokeWidth":1.1},
"encoding":{
"detail":{"field":"id"},
"strokeDash":{"field":"kind","type":"nominal","scale":{"domain":["Volumetric efficiency [%]","Flow [l/min]","DC Power [W]"],"range":[[1,0],[6,2,1,2],[3,1.5]]},
"legend":{"orient":"none","legendX":-45,"legendY":662,"direction":"horizontal","columns":3,"title":null,"symbolType":"stroke","symbolSize":2209,"symbolStrokeWidth":1,"symbolStrokeColor":"black","labelFontSize":23.8,"labelColor":"black","labelOffset":18,"columnPadding":40,"labelLimit":400}}
}},
{"data":{"name":"points"},"mark":{"type":"point","filled":true,"fill":"red","opacity":1,"size":143,"clip":true}},
{"data":{"values":[{"x":1068,"y":3.14,"t":"4 l/min"},{"x":1269,"y":1.39,"t":"6 l/min"},{"x":1936,"y":3.59,"t":"8 l/min"},{"x":2367,"y":3.17,"t":"10 l/min"},{"x":2923,"y":3.14,"t":"12 l/min"},{"x":3543,"y":2.72,"t":"14 l/min"}]},
"mark":{"type":"text","angle":-73,"fontSize":19.4,"color":"black","clip":true},"encoding":{"text":{"field":"t"}}},
{"data":{"values":[{"x":1333,"y":3.69,"t":"70 %"},{"x":1483,"y":2.65,"t":"80 %"}]},
"mark":{"type":"text","angle":-48,"fontSize":19.4,"color":"black","clip":true},"encoding":{"text":{"field":"t"}}},
{"data":{"values":[{"x":1256,"y":1.21,"t":"90 %"}]},
"mark":{"type":"text","angle":-20,"fontSize":19.4,"color":"black","clip":true},"encoding":{"text":{"field":"t"}}},
{"data":{"values":[{"x":1440,"y":1.54,"t":"50 W"},{"x":2291,"y":1.82,"t":"100 W"},{"x":3333,"y":1.39,"t":"150 W"},{"x":3192,"y":2.4,"t":"200 W"},{"x":3017,"y":3.47,"t":"250 W"},{"x":4017,"y":2.28,"t":"300 W"},{"x":3692,"y":3.19,"t":"350 W"}]},
"mark":{"type":"text","angle":37,"fontSize":19.4,"color":"black","clip":true},"encoding":{"text":{"field":"t"}}},
{"data":{"name":"frame"},"mark":{"type":"rule","color":"black","strokeWidth":1.4},"encoding":{"x2":{"field":"x2"},"y2":{"field":"y2"}}}
]
},
{
"width":30,"height":595,
"data":{"name":"bar"},
"layer":[
{"mark":{"type":"rect","strokeWidth":0.5,"strokeOpacity":0.25},
"encoding":{
"y":{"field":"l","type":"quantitative","scale":{"domain":[0,101],"nice":false},"axis":{"orient":"right","values":[0,10,20,30,40,50,60,70,80,90,100],"title":"Volumetric efficiency [%]","titleAngle":270,"titlePadding":27,"labelPadding":5}},
"y2":{"field":"l2"},
"fill":{"field":"l","type":"quantitative","legend":null,"scale":{"domain":[0,11.1,34.3,37.9,64.6,66.7,89.9,91.9,101],"range":["#6666B3","#6666FF","#66EAFF","#72FFEB","#F5FF6B","#FFF466","#FF7166","#F86666","#B36666"],"interpolate":"rgb"}},
"stroke":{"field":"l","type":"quantitative","legend":null,"scale":{"domain":[0,11.1,34.3,37.9,64.6,66.7,89.9,91.9,101],"range":["#000080","#0000FF","#00DBFF","#15FFDE","#EEFF08","#FFEC00","#FF1300","#F40000","#800000"],"interpolate":"rgb"}}
}}
],
"view":{"stroke":"black","strokeWidth":1.4}
}
]
}
